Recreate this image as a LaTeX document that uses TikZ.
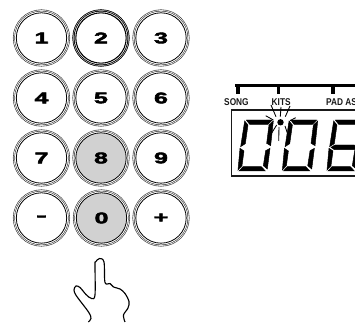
\documentclass[tikz,border=0pt]{standalone}
\usepackage{fontspec}
\setmainfont{Liberation Sans}
\newfontfamily\padfont[FakeBold=2.6]{Liberation Sans}
\begin{document}
\begin{tikzpicture}[x=0.75pt,y=-0.75pt,
  padkey/.style={circle,inner sep=0pt,minimum size=37.8pt,outer sep=0pt,draw=black,line width=.6pt,fill=white,
    preaction={draw=black!80,line width=5pt},
    preaction={draw=white,line width=4.1pt},
    preaction={draw=black!80,line width=3pt},
    preaction={draw=white,line width=2.1pt},
    font=\padfont\bfseries\fontsize{11.6}{12}\selectfont, text=black},
  lit/.style={fill=black!18},
  dark/.style={preaction={draw=black,line width=5pt},preaction={draw=white,line width=3.9pt},preaction={draw=black,line width=3.2pt},preaction={draw=white,line width=1.9pt},line width=.8pt},
  seg/.style={fill=black,draw=black,line width=.35pt,line join=miter},
  barline/.style={draw=black,line width=2.7pt},
  tickline/.style={draw=black,line width=2.6pt},
  ray/.style={draw=black,line width=.65pt},
  lab/.style={font=\bfseries\fontsize{7.4}{8}\selectfont,inner sep=0pt,xscale=.84,text=black!90},
  digitbox/.style={draw=black!90,line width=.8pt},
  handline/.style={draw=black,line width=.85pt,line join=round}]
\useasboundingbox (0,0) rectangle (355,324);
\foreach \n/\x/\y/\t/\s/\f in {a/41.5/38/1//1.6,b/101/38/2/dark/1.6,c/161/38/3//1.6,d/41.5/98/4//1.6,e/101/98/5//1.6,f/161/98/6//1.6,g/41.5/158/7//1.6,h/101/158/8/lit/1.6,i/161/158/9//1.6,j/41.5/218/-//2.0,k/101.5/218/0/lit/1.6,l/161/218/+//1.6}{
  \node[padkey,\s] (key\n) at (\x,\y) {\scalebox{\f}[1]{\t}};
}
% display
\coordinate (bl) at (355,110); \coordinate (bc) at (231.5,110); \coordinate (bd) at (231.5,176); \coordinate (be) at (355,176);
\draw[digitbox] (bl) -- (bc) -- (bd) -- (be);
\coordinate (t0) at (235,85.5); \coordinate (t9) at (355,85.5);
\draw[barline] (t0) -- (t9);
\foreach \x in {238,278.5,333}{\draw[tickline] (\x,85.5) -- (\x,94.5);}
\node[lab,anchor=west] (song) at (224,102.5) {SONG};
\node[lab,anchor=west] (kits) at (271.5,102.5) {KITS};
\node[lab,anchor=west] (pad) at (326,102.5) {PAD AS};
% digits
\foreach \o/\m in {0/0,44.4/0,89/1}{
\begin{scope}[shift={(228+\o,105)},x=0.25pt,y=-0.25pt]
  \filldraw[seg] (55,45) -- (133,45) -- (120,58) -- (65,58) -- cycle;
  \filldraw[seg] (50,48) -- (60,60) -- (52,116) -- (38,125) -- cycle;
  \filldraw[seg] (36,130) -- (48,138) -- (42,182) -- (30,195) -- cycle;
  \filldraw[seg] (33,198) -- (45,185) -- (100,185) -- (112,198) -- cycle;
  \filldraw[seg] (136,48) -- (128,122) -- (116,115) -- (123,60) -- cycle;
  \filldraw[seg] (126,130) -- (118,192) -- (106,182) -- (113,137) -- cycle;
  \ifnum\m=1 \filldraw[seg] (42,127) -- (54,120) -- (112,120) -- (122,127) -- (112,134) -- (52,134) -- cycle; \fi
\end{scope}}
% blinking dot
\fill[black] (280.5,122.3) circle (3.2);
\draw[ray] (271,105) -- (276,116.7);
\draw[ray] (281,107) -- (280.3,116.7);
\draw[ray] (290,106) -- (285.3,116.7);
\draw[ray] (265.7,115.7) -- (273.3,120);
\draw[ray] (295.7,117.7) -- (290,120.7);
\draw[ray] (276.7,125) -- (271.7,133);
\draw[ray] (279,127) -- (278.7,141);
\draw[ray] (285,126) -- (287.3,133);
% hand
\draw[handline] plot[smooth,tension=.55] coordinates {
 (88.3,322) (91,318.5) (88.5,312) (76.5,296) (74,290) (76,286) (80,287.5) (86,294.5) (91.5,298.5) (95,295) (95,265) (95.5,262) (99.5,258.5) (104,262) (105,282.5) (110,283.5) (113.5,287) (120,289) (125,293.5) (129,301.5) (128,308) (123.5,315) (125,322)};
\end{tikzpicture}
\end{document}
